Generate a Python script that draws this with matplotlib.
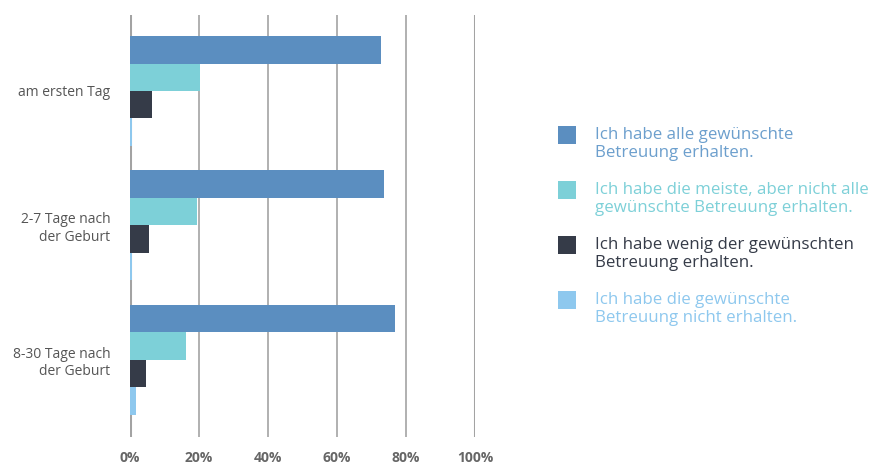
import numpy as np
import matplotlib.pyplot as plt
from matplotlib.patches import Rectangle

categories = ['am ersten Tag', '2-7 Tage nach\nder Geburt', '8-30 Tage nach\nder Geburt']
series = ['Ich habe alle gewünschte\nBetreuung erhalten.',
          'Ich habe die meiste, aber nicht alle\ngewünschte Betreuung erhalten.',
          'Ich habe wenig der gewünschten\nBetreuung erhalten.',
          'Ich habe die gewünschte\nBetreuung nicht erhalten.']
alle = [72.8, 73.5, 76.7]
meiste = [20.2, 19.5, 16.3]
wenig = [6.3, 5.5, 4.7]
nicht = [0.7, 0.7, 1.6]
xticks = [0, 20, 40, 60, 80, 100]

bar_colors = ['#5b8ec0', '#7dd0d8', '#353b48', '#8ec8ee']
text_colors = ['#6c9fcd', '#7dd0d8', '#353b48', '#8ec8ee']

plt.rcParams['font.family'] = ['Open Sans', 'DejaVu Sans']

W, H = 875, 467
fig = plt.figure(figsize=(W / 100, H / 100), dpi=100)
ax = fig.add_axes([130 / W, 1 - 437 / H, 345 / W, 422 / H])

y = np.arange(len(categories))
h = 0.204
vals = [alle, meiste, wenig, nicht]
for i, (v, c) in enumerate(zip(vals, bar_colors)):
    ax.barh(y + (i - 1.5) * h, v, height=h, color=c, label=series[i], zorder=3)

ax.set_xlim(0, 100)
ax.set_ylim(2.575, -0.565)
ax.set_yticks(y)
ax.set_yticklabels(categories, fontsize=10, color='#555555', ha='right')
ax.set_xticks(xticks)
ax.set_xticklabels(['%d%%' % t for t in xticks], fontsize=10, color='#666666',
                   fontweight='bold')
ax.tick_params(axis='both', length=0)
ax.tick_params(axis='y', pad=14)
ax.tick_params(axis='x', pad=10)
for s in ax.spines.values():
    s.set_visible(False)
for t in xticks:
    lw = 2.2 if t in (0, 100) else 1.2
    ax.axvline(t, color='#a3a3a3', lw=lw, zorder=1)

# legend: square next to first line of each two-line label
for i, (lab, bc, tc) in enumerate(zip(series, bar_colors, text_colors)):
    top = 126 + 55 * i
    fig.add_artist(Rectangle((558 / W, 1 - (top + 18) / H), 18 / W, 18 / H,
                             transform=fig.transFigure, facecolor=bc, edgecolor='none'))
    fig.text(595 / W, 1 - (top + 18) / H, lab, fontsize=12.2, color=tc,
             va='center', ha='left')

fig.savefig('out.png', dpi=100)
